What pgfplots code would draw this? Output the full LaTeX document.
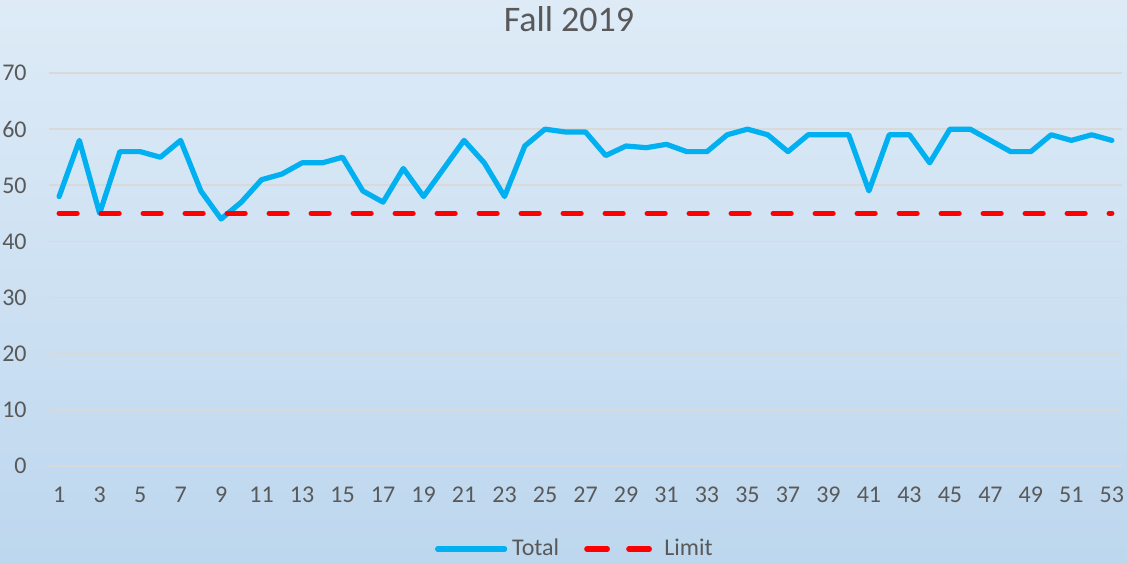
\documentclass[border=0pt]{standalone}
\usepackage{fontspec}
\setmainfont{Carlito}
\usepackage{pgfplots}
\pgfplotsset{compat=1.18}
\definecolor{txt}{HTML}{595959}
\definecolor{gridc}{HTML}{D9D9D9}
\definecolor{total}{HTML}{00B0F0}
\definecolor{limitc}{HTML}{FF0000}
\definecolor{bgtop}{HTML}{DEEBF7}
\definecolor{bgbot}{HTML}{BDD7EE}
\pgfplotsset{
  totalleg/.style={legend image code/.code={\draw[##1] (1.25pt,0pt) -- (34.75pt,0pt);}},
  limitleg/.style={legend image code/.code={\draw[##1] (1.25pt,0pt) -- (31.25pt,0pt); \path (0pt,0pt) -- (35pt,0pt);}},
}
\begin{document}
\begin{tikzpicture}
\fill[top color=bgtop, bottom color=bgbot] (0,0) rectangle (563.5pt,281.5pt);
\useasboundingbox (0,0) rectangle (563.5pt,281.5pt);
\node[anchor=base, text=txt, font=\fontsize{18}{21}\selectfont, inner sep=0pt] at (284.5pt,265.7pt) {Fall 2019};
\begin{axis}[
  at={(24.5pt,48.5pt)}, anchor=south west,
  scale only axis, width=536.5pt, height=196.5pt,
  xmin=0.5, xmax=53.5, ymin=0, ymax=70,
  xtick={1,3,...,53}, ytick={0,10,...,70},
  axis line style={draw=none}, major tick length=0pt,
  ymajorgrids, grid style={gridc, line width=0.9pt},
  tick label style={text=txt, font=\fontsize{12}{14}\selectfont},
  /pgf/number format/assume math mode=true,
  yticklabel style={inner sep=0pt, anchor=east, xshift=-11pt},
  xticklabel style={inner sep=0pt, anchor=north, yshift=-10.5pt},
  legend columns=2,
  legend style={at={(0.4915,0)}, anchor=center, yshift=-41.5pt,
    draw=none, fill=none, text=txt, font=\fontsize{12}{14}\selectfont,
    /tikz/every even column/.append style={column sep=10pt},
    nodes={inner xsep=2.5pt}},
]
\addplot[total, line width=2.6pt, line join=round, line cap=round, totalleg]
coordinates {
(1,48) (2,58) (3,45) (4,56) (5,56) (6,55) (7,58) (8,49) (9,44) (10,47)
(11,51) (12,52) (13,54) (14,54) (15,55) (16,49) (17,47) (18,53) (19,48) (20,53)
(21,58) (22,54) (23,48) (24,57) (25,60) (26,59.5) (27,59.5) (28,55.3) (29,57) (30,56.7)
(31,57.3) (32,56) (33,56) (34,59) (35,60) (36,59) (37,56) (38,59) (39,59) (40,59)
(41,49) (42,59) (43,59) (44,54) (45,60) (46,60) (47,58) (48,56) (49,56) (50,59)
(51,58) (52,59) (53,58)
};
\addlegendentry{Total}
\addplot[limitc, line width=2.6pt, line cap=round, dash pattern=on 9pt off 12pt, limitleg]
coordinates {(1,45) (53,45)};
\addlegendentry{Limit}
\end{axis}
\end{tikzpicture}
\end{document}
